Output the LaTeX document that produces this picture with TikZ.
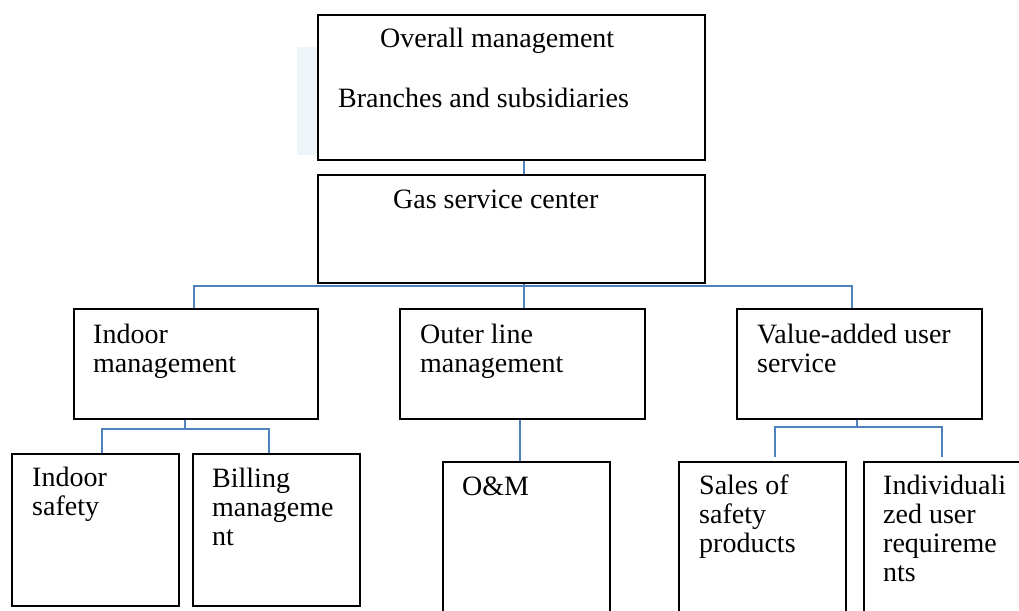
\documentclass[tikz,border=0pt]{standalone}
\usepackage{fontspec}
\setmainfont{Liberation Serif}
\definecolor{linkblue}{HTML}{4F81BD}
\definecolor{faintblue}{HTML}{EEF5F9}
\tikzset{
  box/.style={draw=black, line width=2pt, anchor=north west, inner sep=0pt, fill=white},
  lbl/.style={anchor=base west, inner sep=0pt, align=left, font=\fontsize{28}{29}\selectfont},
  link/.style={draw=linkblue, line width=2.4pt},
}
\begin{document}
\begin{tikzpicture}[x=1pt,y=-1pt]
\useasboundingbox (0,0) rectangle (1019,610);
\clip (0,0) rectangle (1019,610);
% faint background strip
\fill[faintblue] (297,47) rectangle (317,155);
% boxes
\node[box, minimum width=387pt, minimum height=145pt] (top) at (317,14) {};
\node[box, minimum width=387pt, minimum height=108pt] (gas) at (317,174) {};
\node[box, minimum width=244pt, minimum height=110pt] (indoor) at (73,308) {};
\node[box, minimum width=245pt, minimum height=110pt] (outer) at (399,308) {};
\node[box, minimum width=245pt, minimum height=110pt] (value) at (736,308) {};
\node[box, minimum width=167pt, minimum height=152pt] (isafe) at (11,453) {};
\node[box, minimum width=167pt, minimum height=152pt] (bill) at (192,453) {};
\node[box, minimum width=167pt, minimum height=170pt] (om) at (442,461) {};
\node[box, minimum width=167pt, minimum height=170pt] (sales) at (678,461) {};
\node[box, minimum width=167pt, minimum height=170pt] (indiv) at (863,461) {};
% texts (base = baseline of the last line)
\node[lbl] (t1) at (380,48) {Overall management};
\node[lbl] (t2) at (338,107) {Branches and subsidiaries};
\node[lbl] (t3) at (393,208) {Gas service center};
\node[lbl] (t4) at (93,372) {Indoor\\management};
\node[lbl] (t5) at (420,372) {Outer line\\management};
\node[lbl] (t6) at (757,372) {Value-added user\\service};
\node[lbl] (t7) at (32,515) {Indoor\\safety};
\node[lbl] (t8) at (212,545) {Billing\\manageme\\nt};
\node[lbl] (t9) at (462,495) {O\&M};
\node[lbl] (t10) at (699,552) {Sales of\\safety\\products};
\node[lbl] (t11) at (883,581) {Individuali\\zed user\\requireme\\nts};
% connector coordinates
\coordinate (xmain) at (524,0);
\coordinate (busy) at (0,286);
\coordinate (xi) at (194,0);
\coordinate (xv) at (852,0);
\coordinate (xisub) at (185,0);
\coordinate (isuby) at (0,429);
\coordinate (xisafe) at (102,0);
\coordinate (xbill) at (269,0);
\coordinate (xom) at (520,0);
\coordinate (xvsub) at (857,0);
\coordinate (vsuby) at (0,427);
\coordinate (xsales) at (775,0);
\coordinate (xindiv) at (942,0);
\coordinate (vendy) at (0,457);
% connectors
\draw[link] (top.south -| xmain) -- (gas.north -| xmain);
\draw[link] (gas.south -| xmain) -- (busy -| xmain);
\draw[link] (indoor.north -| xi) -- (busy -| xi) -- (busy -| xv) -- (value.north -| xv);
\draw[link] (busy -| xmain) -- (outer.north -| xmain);
\draw[link] (indoor.south -| xisub) -- (isuby -| xisub);
\draw[link] (isafe.north -| xisafe) -- (isuby -| xisafe) -- (isuby -| xbill) -- (bill.north -| xbill);
\draw[link] (outer.south -| xom) -- (om.north -| xom);
\draw[link] (value.south -| xvsub) -- (vsuby -| xvsub);
\draw[link] (vendy -| xsales) -- (vsuby -| xsales) -- (vsuby -| xindiv) -- (vendy -| xindiv);
\end{tikzpicture}
\end{document}
